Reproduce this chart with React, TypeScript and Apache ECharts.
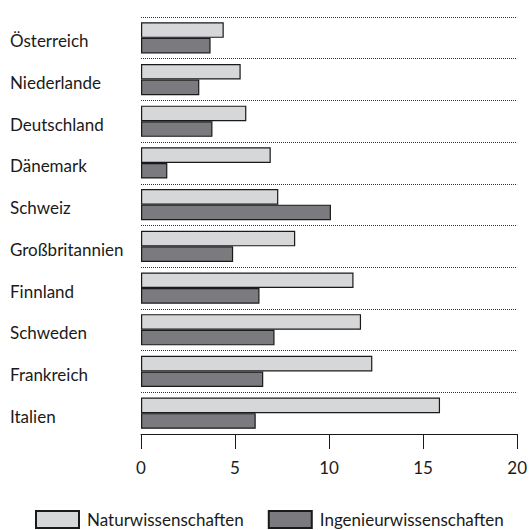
import React, { useEffect, useRef } from "react";
import * as echarts from "echarts";

const categories = [
  "Österreich",
  "Niederlande",
  "Deutschland",
  "Dänemark",
  "Schweiz",
  "Großbritannien",
  "Finnland",
  "Schweden",
  "Frankreich",
  "Italien",
];
const naturwissenschaften = [4.4, 5.3, 5.6, 6.9, 7.3, 8.2, 11.3, 11.7, 12.3, 15.9];
const ingenieurwissenschaften = [3.7, 3.1, 3.8, 1.4, 10.1, 4.9, 6.3, 7.1, 6.5, 6.1];
const xTicks = { min: 0, max: 20, interval: 5 };

const FONT = "Lato";

export default function App() {
  const ref = useRef<HTMLDivElement>(null);
  useEffect(() => {
    if (!ref.current) return;
    const chart = echarts.init(ref.current, null, { renderer: "svg" });
    chart.setOption({
      animation: false,
      backgroundColor: "#ffffff",
      textStyle: { fontFamily: FONT },
      grid: { left: 141, right: 12, top: 17, bottom: 96 },
      legend: {
        left: 35,
        top: 510,
        padding: 0,
        icon: "rect",
        itemWidth: 43,
        itemHeight: 17,
        itemGap: 24,
        textStyle: { fontFamily: FONT, fontSize: 17, color: "#1a1a1a", padding: [0, 0, 0, 3] },
        data: ["Naturwissenschaften", "Ingenieurwissenschaften"],
      },
      xAxis: {
        type: "value",
        min: xTicks.min,
        max: xTicks.max,
        interval: xTicks.interval,
        axisLine: { show: true, lineStyle: { color: "#1a1a1a", width: 1 } },
        axisTick: { show: true, length: 15, lineStyle: { color: "#1a1a1a", width: 1 } },
        axisLabel: { fontFamily: FONT, fontSize: 17, color: "#1a1a1a", margin: 25 },
        splitLine: { show: false },
      },
      yAxis: {
        type: "category",
        inverse: true,
        data: categories,
        axisLine: { show: false },
        axisTick: { show: false },
        axisLabel: {
          align: "left",
          margin: 131,
          formatter: (v: string) => "{c|" + v + "}",
          rich: {
            c: {
              fontFamily: FONT,
              fontSize: 17,
              color: "#1a1a1a",
              padding: [6, 0, 0, 0],
            },
          },
        },
        splitLine: { show: true, lineStyle: { color: "#333333", type: "dotted", width: 1 } },
      },
      series: [
        {
          name: "Naturwissenschaften",
          type: "bar",
          data: naturwissenschaften,
          barWidth: 15.6,
          barGap: "0%",
          itemStyle: { color: "#d6d7d9", borderColor: "#1a1a1a", borderWidth: 1.2 },
        },
        {
          name: "Ingenieurwissenschaften",
          type: "bar",
          data: ingenieurwissenschaften,
          barWidth: 15.6,
          barGap: "0%",
          itemStyle: { color: "#7a7a7f", borderColor: "#1a1a1a", borderWidth: 1.2 },
        },
      ],
    });
    return () => chart.dispose();
  }, []);
  return (
    <div
      ref={ref}
      style={{ position: "absolute", left: 0, top: 0, width: 530, height: 530 }}
    />
  );
}
